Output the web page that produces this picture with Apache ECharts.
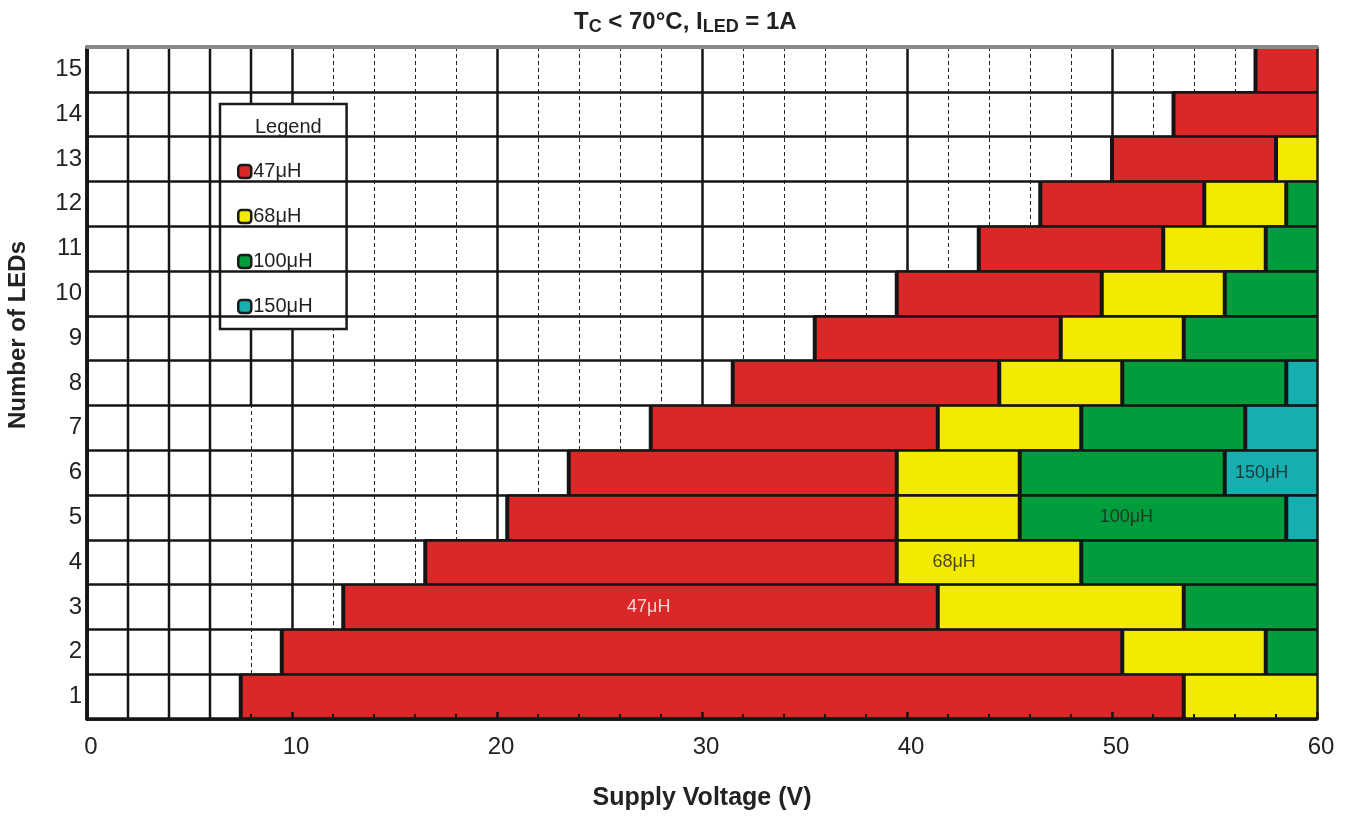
<!DOCTYPE html>
<html>
<head>
<meta charset="utf-8">
<script src="https://cdn.jsdelivr.net/npm/echarts@6/dist/echarts.min.js"></script>
<style>
  html, body { margin: 0; padding: 0; background: #fff; }
  #chart { width: 1353px; height: 816px; }
</style>
</head>
<body>
<div id="chart"></div>
<script>
// number of LEDs (rows)
const leds = ['1', '2', '3', '4', '5', '6', '7', '8', '9', '10', '11', '12', '13', '14', '15'];

// voltage ranges [from, to] per row for each inductor, null = not used
const range47 = [[7.5, 53.5], [9.5, 50.5], [12.5, 41.5], [16.5, 39.5], [20.5, 39.5], [23.5, 39.5], [27.5, 41.5],
  [31.5, 44.5], [35.5, 47.5], [39.5, 49.5], [43.5, 52.5], [46.5, 54.5], [50, 58], [53, 60], [57, 60]];
const range68 = [[53.5, 60], [50.5, 57.5], [41.5, 53.5], [39.5, 48.5], [39.5, 45.5], [39.5, 45.5], [41.5, 48.5],
  [44.5, 50.5], [47.5, 53.5], [49.5, 55.5], [52.5, 57.5], [54.5, 58.5], [58, 60], null, null];
const range100 = [null, [57.5, 60], [53.5, 60], [48.5, 60], [45.5, 58.5], [45.5, 55.5], [48.5, 56.5],
  [50.5, 58.5], [53.5, 60], [55.5, 60], [57.5, 60], [58.5, 60], null, null, null];
const range150 = [null, null, null, null, [58.5, 60], [55.5, 60], [56.5, 60], [58.5, 60], null, null, null, null, null, null, null];

// text labels inside the coloured areas
const noteText = ['47μH', '68μH', '100μH', '150μH'];
const noteVolt = [27.4, 42.3, 50.7, 57.3];
const noteRow = [2, 3, 4, 5];

// solid guides at these volts, starting above row boundary guideFrom
const guideVolt = [2, 4, 6, 8];
const guideFrom = [0, 0, 0, 7];

const FONT = '"Liberation Sans", Arial, sans-serif';
const colors = ['#da2727', '#f2ea00', '#009d3c', '#16aeae'];

function toData(ranges) {
  const out = [];
  ranges.forEach((r, i) => { if (r) out.push([i, r[0], r[1]]); });
  return out;
}

function renderSeg(params, api) {
  const row = api.value(0);
  const p0 = api.coord([api.value(1), row]);
  const p1 = api.coord([api.value(2), row]);
  const h = api.size([0, 1])[1];
  const top = p0[1] - h / 2;
  return {
    type: 'group',
    children: [
      {
        type: 'rect',
        shape: { x: p0[0], y: top, width: p1[0] - p0[0], height: h },
        style: { fill: api.visual('color'), stroke: '#1e1e1e', lineWidth: 1.5 }
      },
      {
        type: 'line',
        shape: { x1: p0[0], y1: top, x2: p0[0], y2: top + h },
        style: { stroke: '#141414', lineWidth: 4 }
      }
    ]
  };
}

function segSeries(name, ranges, color) {
  return {
    name: name,
    type: 'custom',
    z: 3,
    itemStyle: { color: color },
    encode: { x: [1, 2], y: 0 },
    renderItem: renderSeg,
    data: toData(ranges)
  };
}

const chart = echarts.init(document.getElementById('chart'), null, { renderer: 'canvas' });

chart.setOption({
  animation: false,
  backgroundColor: '#fff',
  textStyle: { fontFamily: FONT },
  title: {
    text: '{b|T}{s|C}{b| < 70°C, I}{s|LED}{b| = 1A}',
    left: 569,
    top: 3,
    textStyle: {
      rich: {
        b: { fontFamily: FONT, fontSize: 24, fontWeight: 'bold', color: '#222', lineHeight: 28, verticalAlign: 'middle' },
        s: { fontFamily: FONT, fontSize: 18, fontWeight: 'bold', color: '#222', lineHeight: 16, verticalAlign: 'bottom' }
      }
    }
  },
  grid: {
    left: 87, right: 36, top: 47, bottom: 97,
    show: true, borderColor: '#8a8a8a', borderWidth: 2, backgroundColor: '#fff'
  },
  legend: {
    orient: 'vertical',
    left: 220,
    top: 104,
    data: ['47μH', '68μH', '100μH', '150μH'],
    icon: 'roundRect',
    itemWidth: 13,
    itemHeight: 13,
    itemGap: 24,
    backgroundColor: '#fff',
    borderColor: '#1a1a1a',
    borderWidth: 2.5,
    borderRadius: 0,
    padding: [57, 34, 12, 17],
    selectedMode: false,
    itemStyle: { borderColor: '#1a1a1a', borderWidth: 2.5 },
    textStyle: { fontFamily: FONT, fontSize: 20, color: '#222', lineHeight: 21, padding: [0, 0, 0, -3] },
    z: 10
  },
  graphic: [
    {
      type: 'text', left: 255, top: 117, z: 20,
      style: { text: 'Legend', font: '20px ' + FONT, fill: '#222' }
    },
    {
      type: 'text', x: 18, y: 335, rotation: Math.PI / 2, z: 20,
      style: { text: 'Number of LEDs', font: 'bold 24px ' + FONT, fill: '#222', align: 'center', verticalAlign: 'middle' }
    }
  ],
  xAxis: [
    {
      // background grid
      type: 'value', min: 0, max: 60, interval: 10, position: 'bottom', z: 0,
      axisLine: { show: false }, axisTick: { show: false }, axisLabel: { show: false },
      splitLine: { show: true, lineStyle: { color: '#151515', width: 2.5 } },
      minorTick: { show: false, splitNumber: 5 },
      minorSplitLine: { show: true, lineStyle: { color: '#222', width: 1, type: [4, 3] } }
    },
    {
      // visible axis drawn over the bars
      type: 'value', min: 0, max: 60, interval: 10, position: 'bottom', z: 10,
      name: 'Supply Voltage (V)', nameLocation: 'middle', nameGap: 67,
      nameTextStyle: { fontFamily: FONT, fontSize: 25, fontWeight: 'bold', color: '#222' },
      axisLine: { show: true, lineStyle: { color: '#151515', width: 3.5 } },
      axisTick: { show: true, inside: true, length: 7, lineStyle: { color: '#151515', width: 2.5 } },
      minorTick: { show: true, splitNumber: 5, length: 5, lineStyle: { color: '#151515', width: 2 } },
      axisLabel: { fontFamily: FONT, fontSize: 24, color: '#222', margin: 16, padding: [0, 0, 0, 8] },
      splitLine: { show: false }
    },
    {
      // grey top edge
      type: 'value', min: 0, max: 60, position: 'top', z: 11,
      axisLine: { show: true, lineStyle: { color: '#8a8a8a', width: 4 } },
      axisTick: { show: false }, axisLabel: { show: false }, splitLine: { show: false }
    }
  ],
  yAxis: [
    {
      type: 'category', data: leds, position: 'left', z: 10,
      axisLine: { show: true, lineStyle: { color: '#151515', width: 3.5 } },
      axisTick: { show: false },
      axisLabel: { fontFamily: FONT, fontSize: 24, color: '#222', margin: 5 },
      splitLine: { show: true, interval: 0, lineStyle: { color: '#151515', width: 2.5 } }
    },
    {
      type: 'category', data: leds, position: 'right', z: 10,
      axisLine: { show: true, lineStyle: { color: '#151515', width: 3.5 } },
      axisTick: { show: false }, axisLabel: { show: false }, splitLine: { show: false }
    }
  ],
  series: [
    {
      name: 'guides',
      type: 'custom',
      z: 1,
      silent: true,
      encode: { x: 0, y: 1 },
      renderItem: function (params, api) {
        const x = api.value(0);
        const from = api.value(1);
        const h = api.size([0, 1])[1];
        const top = api.coord([x, leds.length - 1])[1] - h / 2;
        const bottom = api.coord([x, Math.max(from - 1, 0)])[1] + (from === 0 ? h / 2 : -h / 2);
        return {
          type: 'line',
          shape: { x1: api.coord([x, 0])[0], y1: top, x2: api.coord([x, 0])[0], y2: bottom },
          style: { stroke: '#151515', lineWidth: 2.5 }
        };
      },
      data: guideVolt.map((v, i) => [v, guideFrom[i]])
    },
    segSeries('47μH', range47, colors[0]),
    segSeries('68μH', range68, colors[1]),
    segSeries('100μH', range100, colors[2]),
    segSeries('150μH', range150, colors[3]),
    {
      name: 'notes',
      type: 'scatter',
      z: 6,
      symbolSize: 0,
      silent: true,
      label: { show: true, position: 'inside', fontFamily: FONT, fontSize: 18, formatter: p => p.data.text },
      data: noteText.map((t, i) => ({
        value: [noteVolt[i], noteRow[i]],
        text: t,
        label: { color: i === 0 ? '#fff' : '#1e1e1e' }
      }))
    }
  ]
});
</script>
</body>
</html>
